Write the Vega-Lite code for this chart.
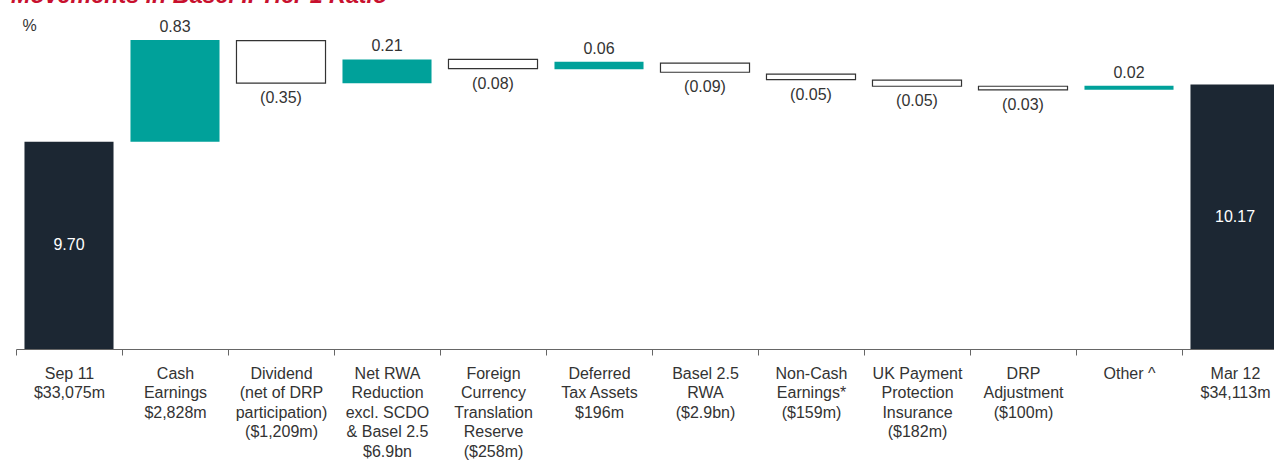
{
  "$schema": "https://vega.github.io/schema/vega-lite/v6.json",
  "autosize": {"type": "none"},
  "padding": {"left": 16, "top": 32, "right": 0, "bottom": 113},
  "width": 1258,
  "height": 317,
  "background": "white",
  "config": {"view": {"stroke": null}, "font": "Liberation Sans"},
  "title": {
    "text": "Movements in Basel II Tier 1 Ratio",
    "anchor": "start",
    "frame": "group",
    "color": "#c8102e",
    "fontSize": 23.3,
    "fontWeight": "bold",
    "fontStyle": "italic",
    "baseline": "alphabetic",
    "offset": 0,
    "dx": -5,
    "dy": 9.5
  },
  "data": {
    "values": [
      {"cat": "Sep 11|$33,075m", "start": 8, "end": 9.70, "kind": "total", "label": "9.70"},
      {"cat": "Cash|Earnings|$2,828m", "start": 9.70, "end": 10.535, "kind": "up", "label": "0.83"},
      {"cat": "Dividend|(net of DRP|participation)|($1,209m)", "start": 10.53, "end": 10.18, "kind": "down", "label": "(0.35)"},
      {"cat": "Net RWA|Reduction|excl. SCDO|& Basel 2.5|$6.9bn", "start": 10.18, "end": 10.375, "kind": "up", "label": "0.21"},
      {"cat": "Foreign|Currency|Translation|Reserve|($258m)", "start": 10.375, "end": 10.30, "kind": "down", "label": "(0.08)"},
      {"cat": "Deferred|Tax Assets|$196m", "start": 10.295, "end": 10.357, "kind": "up", "label": "0.06"},
      {"cat": "Basel 2.5|RWA|($2.9bn)", "start": 10.345, "end": 10.27, "kind": "down", "label": "(0.09)"},
      {"cat": "Non-Cash|Earnings*|($159m)", "start": 10.255, "end": 10.21, "kind": "down", "label": "(0.05)"},
      {"cat": "UK Payment|Protection|Insurance|($182m)", "start": 10.205, "end": 10.155, "kind": "down", "label": "(0.05)"},
      {"cat": "DRP|Adjustment|($100m)", "start": 10.155, "end": 10.125, "kind": "down", "label": "(0.03)"},
      {"cat": "Other ^", "start": 10.127, "end": 10.16, "kind": "up", "label": "0.02"},
      {"cat": "Mar 12|$34,113m", "start": 8, "end": 10.17, "kind": "total", "label": "10.17"}
    ]
  },
  "encoding": {
    "x": {
      "field": "cat",
      "type": "nominal",
      "sort": ["Sep 11|$33,075m", "Cash|Earnings|$2,828m", "Dividend|(net of DRP|participation)|($1,209m)", "Net RWA|Reduction|excl. SCDO|& Basel 2.5|$6.9bn", "Foreign|Currency|Translation|Reserve|($258m)", "Deferred|Tax Assets|$196m", "Basel 2.5|RWA|($2.9bn)", "Non-Cash|Earnings*|($159m)", "UK Payment|Protection|Insurance|($182m)", "DRP|Adjustment|($100m)", "Other ^", "Mar 12|$34,113m"],
      "scale": {"range": [0, 1272], "paddingInner": 0.16, "paddingOuter": 0.08},
      "axis": {
        "title": null,
        "domain": true,
        "domainColor": "#666666",
        "ticks": true,
        "tickColor": "#666666",
        "tickSize": 6,
        "bandPosition": 0,
        "tickOffset": -8.5,
        "labelOffset": 8.5,
        "labelAngle": 0,
        "labelFontSize": 16,
        "labelColor": "#333333",
        "labelPadding": 10,
        "labelLineHeight": 19.5,
        "labelLimit": 0,
        "labelBaseline": "top",
        "labelOverlap": false,
        "labelExpr": "split(datum.label, '|')"
      }
    }
  },
  "layer": [
    {
      "transform": [{"filter": "datum.kind != 'down'"}],
      "mark": {"type": "bar"},
      "encoding": {
        "y": {
          "field": "start",
          "type": "quantitative",
          "scale": {"domain": [8, 10.6], "zero": false, "nice": false},
          "axis": {
            "title": "%",
            "domain": false,
            "ticks": false,
            "labels": false,
            "grid": false,
            "titleAngle": 0,
            "titleX": 6,
            "titleY": -2,
            "titleAlign": "left",
            "titleBaseline": "alphabetic",
            "titleFontSize": 16,
            "titleFontWeight": "normal",
            "titleColor": "#333333"
          }
        },
        "y2": {"field": "end"},
        "color": {
          "field": "kind",
          "type": "nominal",
          "scale": {"domain": ["total", "up"], "range": ["#1c2733", "#00a19a"]},
          "legend": null
        }
      }
    },
    {
      "transform": [{"filter": "datum.kind == 'down'"}],
      "mark": {"type": "bar", "fill": "#ffffff", "stroke": "#333333", "strokeWidth": 1.2},
      "encoding": {
        "y": {"field": "start", "type": "quantitative"},
        "y2": {"field": "end"}
      }
    },
    {
      "transform": [{"filter": "datum.kind == 'up'"}],
      "mark": {"type": "text", "baseline": "alphabetic", "dy": -8, "fontSize": 16, "color": "#333333"},
      "encoding": {
        "y": {"field": "end", "type": "quantitative"},
        "text": {"field": "label"}
      }
    },
    {
      "transform": [{"filter": "datum.kind == 'down'"}],
      "mark": {"type": "text", "baseline": "top", "dy": 7, "fontSize": 16, "color": "#333333"},
      "encoding": {
        "y": {"field": "end", "type": "quantitative"},
        "text": {"field": "label"}
      }
    },
    {
      "transform": [
        {"filter": "datum.kind == 'total'"},
        {"fold": ["start", "end"], "as": ["k", "v"]}
      ],
      "mark": {"type": "text", "baseline": "middle", "fontSize": 16, "color": "#ffffff"},
      "encoding": {
        "y": {"aggregate": "mean", "field": "v", "type": "quantitative"},
        "text": {"field": "label", "type": "nominal"}
      }
    }
  ]
}
